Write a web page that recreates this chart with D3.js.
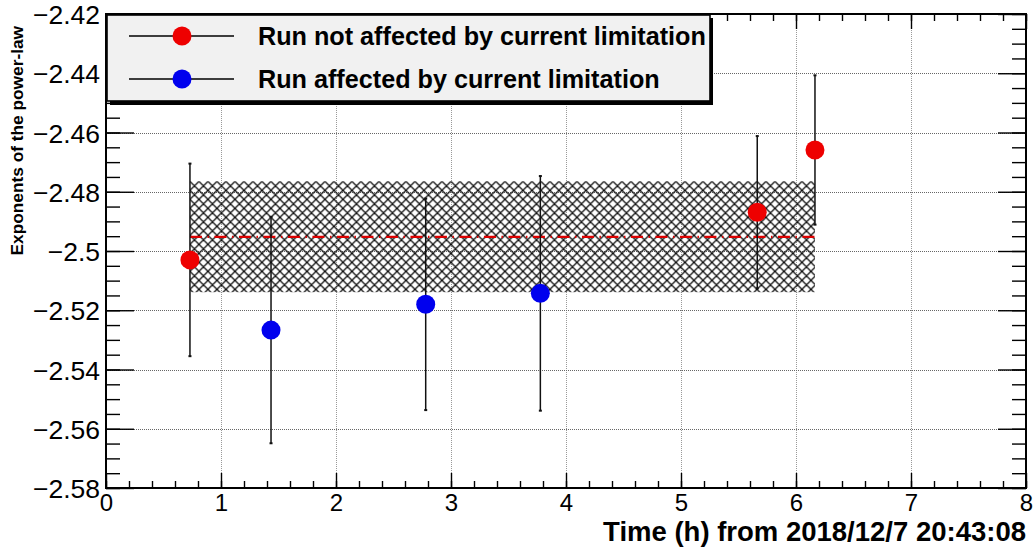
<!DOCTYPE html>
<html>
<head>
<meta charset="utf-8">
<script src="https://cdn.jsdelivr.net/npm/d3@7"></script>
<style>
  html, body { margin: 0; padding: 0; background: #fff; }
  svg { display: block; font-family: "Liberation Sans", Arial, Helvetica, sans-serif; }
</style>
</head>
<body>
<svg id="chart" width="1033" height="549"></svg>
<script>
// Power-law exponent per run, split by whether the run hit the current limit
const notLimitedTime  = [0.730, 5.663, 6.165];
const notLimitedIndex = [-2.5030, -2.4869, -2.4659];
const notLimitedErr   = [0.0325, 0.0257, 0.0252];

const limitedTime  = [1.435, 2.780, 3.777];
const limitedIndex = [-2.5267, -2.5180, -2.5143];
const limitedErr   = [0.0382, 0.0357, 0.0396];

// Weighted mean of the exponent and its uncertainty band
const meanIndex = -2.4952;
const meanErr   = 0.0187;
const meanRange = [0.730, 6.165];

const xTicks = [0, 1, 2, 3, 4, 5, 6, 7, 8];
const yTicks = [-2.58, -2.56, -2.54, -2.52, -2.50, -2.48, -2.46, -2.44, -2.42];
const yTickLabels = ["\u22122.58", "\u22122.56", "\u22122.54", "\u22122.52", "\u22122.5", "\u22122.48", "\u22122.46", "\u22122.44", "\u22122.42"];

const legendLabels = ["Run not affected by current limitation", "Run affected by current limitation"];
const xTitle = "Time (h) from 2018/12/7 20:43:08";
const yTitle = "Exponents of the power-law";

const frame = { left: 106, right: 1026, top: 14, bottom: 488 };
const svg = d3.select("#chart");

const x = d3.scaleLinear().domain([0, 8]).range([frame.left, frame.right]);
const y = d3.scaleLinear().domain([-2.58, -2.42]).range([frame.bottom, frame.top]);

// cross-hatch pattern for the uncertainty band
const defs = svg.append("defs");
const pat = defs.append("pattern")
  .attr("id", "xhatch").attr("patternUnits", "userSpaceOnUse")
  .attr("width", 9).attr("height", 9)
  .attr("x", x(meanRange[0])).attr("y", y(meanIndex + meanErr));
pat.append("path").attr("d", "M0,0L9,9M-1,8L1,10M8,-1L10,1M0,9L9,0M-1,1L1,-1M8,10L10,8")
  .attr("stroke", "#111").attr("stroke-width", 1.25).attr("fill", "none");

// grid
const grid = svg.append("g").attr("stroke", "#666").attr("stroke-width", 1)
  .attr("stroke-dasharray", "1,1").attr("shape-rendering", "crispEdges");
grid.selectAll("line.gx").data(xTicks.slice(1, -1)).join("line")
  .attr("x1", d => Math.round(x(d)) + 0.5).attr("x2", d => Math.round(x(d)) + 0.5)
  .attr("y1", frame.top).attr("y2", frame.bottom).attr("stroke", "#999");
grid.selectAll("line.gy").data(yTicks.slice(1, -1)).join("line")
  .attr("y1", d => Math.round(y(d)) + 0.5).attr("y2", d => Math.round(y(d)) + 0.5)
  .attr("x1", frame.left).attr("x2", frame.right);

// uncertainty band and mean
svg.append("rect")
  .attr("x", x(meanRange[0])).attr("width", x(meanRange[1]) - x(meanRange[0]))
  .attr("y", y(meanIndex + meanErr)).attr("height", y(meanIndex - meanErr) - y(meanIndex + meanErr))
  .attr("fill", "url(#xhatch)");
svg.append("line")
  .attr("x1", x(meanRange[0])).attr("x2", x(meanRange[1]))
  .attr("y1", y(meanIndex)).attr("y2", y(meanIndex))
  .attr("stroke", "#dd0000").attr("stroke-width", 2.2)
  .attr("stroke-dasharray", "12,5.5,1.5,5.5");

// axes: ticks drawn inward on all four sides
function styleAxis(g) {
  g.select(".domain").remove();
  g.selectAll(".tick line").attr("stroke", "#000").attr("stroke-width", 1.4);
  g.selectAll("text").attr("fill", "#000");
}
const yMinor = d3.range(0, 33).map(i => -2.58 + i * 0.005);
const xMinor = d3.range(0, 41).map(i => i * 0.2);

svg.append("g").attr("transform", `translate(${frame.left},0)`)
  .call(d3.axisLeft(y).tickValues(yMinor).tickSize(-14).tickFormat("")).call(styleAxis);
svg.append("g").attr("transform", `translate(${frame.left},0)`)
  .call(d3.axisLeft(y).tickValues(yTicks).tickSize(-28).tickPadding(6)
    .tickFormat((d, i) => yTickLabels[i]))
  .call(styleAxis)
  .selectAll("text").attr("font-size", 26.5).attr("dy", "0.36em");
svg.append("g").attr("transform", `translate(${frame.right},0)`)
  .call(d3.axisRight(y).tickValues(yMinor).tickSize(-14).tickFormat("")).call(styleAxis);
svg.append("g").attr("transform", `translate(${frame.right},0)`)
  .call(d3.axisRight(y).tickValues(yTicks).tickSize(-28).tickFormat("")).call(styleAxis);

svg.append("g").attr("transform", `translate(0,${frame.bottom})`)
  .call(d3.axisBottom(x).tickValues(xMinor).tickSize(-7).tickFormat("")).call(styleAxis);
svg.append("g").attr("transform", `translate(0,${frame.bottom})`)
  .call(d3.axisBottom(x).tickValues(xTicks).tickSize(-15).tickPadding(6).tickFormat(d3.format("d")))
  .call(styleAxis)
  .selectAll("text").attr("font-size", 24).attr("dy", "0.7em");
svg.append("g").attr("transform", `translate(0,${frame.top})`)
  .call(d3.axisTop(x).tickValues(xMinor).tickSize(-7).tickFormat("")).call(styleAxis);
svg.append("g").attr("transform", `translate(0,${frame.top})`)
  .call(d3.axisTop(x).tickValues(xTicks).tickSize(-15).tickFormat("")).call(styleAxis);

// frame
svg.append("rect")
  .attr("x", frame.left).attr("y", frame.top)
  .attr("width", frame.right - frame.left).attr("height", frame.bottom - frame.top)
  .attr("fill", "none").attr("stroke", "#000").attr("stroke-width", 2);

// points with vertical error bars
const groups = [
  { t: notLimitedTime, v: notLimitedIndex, e: notLimitedErr, color: "#ee0000" },
  { t: limitedTime, v: limitedIndex, e: limitedErr, color: "#0000ee" }
];
groups.forEach(gr => {
  const pts = gr.t.map((t, i) => ({ t, v: gr.v[i], e: gr.e[i] }));
  const g = svg.append("g");
  g.selectAll("line.err").data(pts).join("line")
    .attr("x1", d => x(d.t)).attr("x2", d => x(d.t))
    .attr("y1", d => y(d.v + d.e)).attr("y2", d => y(d.v - d.e))
    .attr("stroke", "#111").attr("stroke-width", 1.5);
  g.selectAll("rect.capTop").data(pts).join("rect")
    .attr("x", d => x(d.t) - 1.5).attr("y", d => y(d.v + d.e) - 1)
    .attr("width", 3).attr("height", 2).attr("fill", "#111");
  g.selectAll("rect.capBot").data(pts).join("rect")
    .attr("x", d => x(d.t) - 1.5).attr("y", d => y(d.v - d.e) - 1)
    .attr("width", 3).attr("height", 2).attr("fill", "#111");
  g.selectAll("circle").data(pts).join("circle")
    .attr("cx", d => x(d.t)).attr("cy", d => y(d.v)).attr("r", 9.5)
    .attr("fill", gr.color);
});

// legend
const lg = svg.append("g");
lg.append("rect").attr("x", 110).attr("y", 18).attr("width", 603).attr("height", 87).attr("fill", "#000");
lg.append("rect").attr("x", 107).attr("y", 15).attr("width", 603).attr("height", 86)
  .attr("fill", "#f1f1f1").attr("stroke", "#000").attr("stroke-width", 1.6);
const legendColors = ["#ee0000", "#0000ee"];
const legendY = [36, 79];
legendLabels.forEach((label, i) => {
  lg.append("line").attr("x1", 129).attr("x2", 234).attr("y1", legendY[i]).attr("y2", legendY[i])
    .attr("stroke", "#000").attr("stroke-width", 1.5);
  lg.append("circle").attr("cx", 182).attr("cy", legendY[i]).attr("r", 9.5).attr("fill", legendColors[i]);
  lg.append("text").attr("x", 258).attr("y", legendY[i]).attr("dy", "0.36em")
    .attr("font-size", 25.2).attr("font-weight", "bold").attr("fill", "#000").text(label);
});

// axis titles
svg.append("text").attr("x", frame.right).attr("y", 541).attr("text-anchor", "end")
  .attr("font-size", 27.5).attr("font-weight", "bold").attr("fill", "#000").text(xTitle);
svg.append("text").attr("transform", "translate(23,26) rotate(-90)").attr("text-anchor", "end")
  .attr("font-size", 17.3).attr("font-weight", "bold").attr("fill", "#000").text(yTitle);
</script>
</body>
</html>
